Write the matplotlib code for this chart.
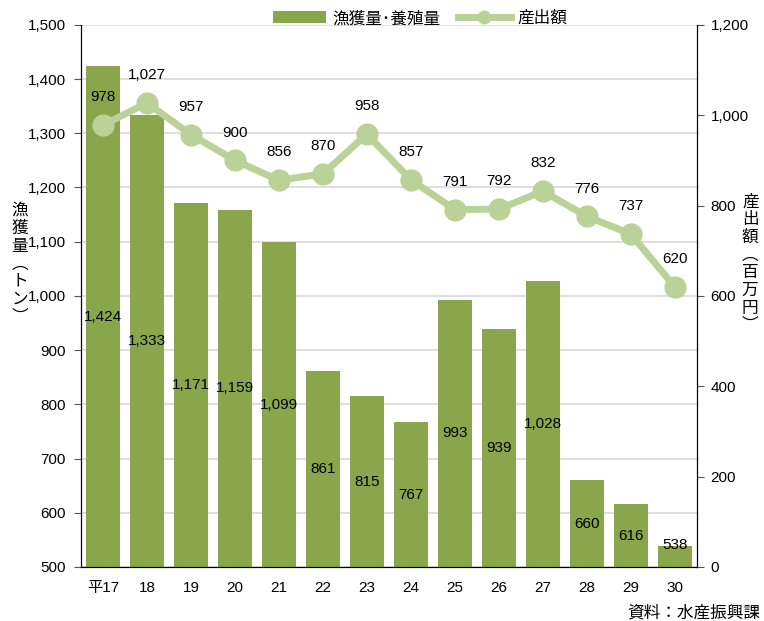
import matplotlib
matplotlib.use("Agg")
import matplotlib.pyplot as plt
from matplotlib import font_manager
from matplotlib.ticker import FuncFormatter
import numpy as np

# 年度ごとの漁獲量・養殖量（トン）と産出額（百万円）
years = ["平17", "18", "19", "20", "21", "22", "23", "24", "25", "26", "27", "28", "29", "30"]
catch_t = [1424, 1333, 1171, 1159, 1099, 861, 815, 767, 993, 939, 1028, 660, 616, 538]
output_m = [978, 1027, 957, 900, 856, 870, 958, 857, 791, 792, 832, 776, 737, 620]

names = {f.name for f in font_manager.fontManager.ttflist}
num_font = "Liberation Sans Narrow" if "Liberation Sans Narrow" in names else "Liberation Sans"
plt.rcParams["font.family"] = [num_font, "Noto Sans CJK JP", "DejaVu Sans"]
plt.rcParams["font.size"] = 11
JP = ["Noto Sans CJK JP", "DejaVu Sans"]

BAR = "#8aa64c"
LINE = "#bad298"

fig = plt.figure(figsize=(7.64, 6.21), dpi=100)
ax = fig.add_axes([0.106, 0.087, 0.806, 0.873])
ax2 = ax.twinx()

x = np.arange(len(years))
ax.bar(x, catch_t, width=0.78, color=BAR, zorder=2, label="漁獲量･養殖量")
ax.set_ylim(500, 1500)
ax.set_xlim(-0.5, len(years) - 0.5)
ax.set_yticks(np.arange(500, 1501, 100))
ax.yaxis.set_major_formatter(FuncFormatter(lambda v, p: f"{int(v):,}"))
ax.grid(axis="y", color="#d9d9d9", linewidth=1.2, zorder=0)
ax.set_axisbelow(True)
ax.set_xticks(x)
ax.set_xticklabels(years)
ax.tick_params(axis="x", length=0, pad=10)
ax.tick_params(axis="y", length=5, color="#555555", pad=6)

for xi, v in zip(x, catch_t):
    ax.text(xi, max((500 + v) / 2, 541), f"{v:,}", ha="center", va="center", fontsize=11, zorder=3)

ax2.plot(x, output_m, color=LINE, linewidth=5, marker="o", markersize=15, zorder=4, label="産出額")
ax2.set_ylim(0, 1200)
ax2.set_yticks(np.arange(0, 1201, 200))
ax2.yaxis.set_major_formatter(FuncFormatter(lambda v, p: f"{int(v):,}"))
ax2.tick_params(axis="y", length=5, color="#555555", pad=5)
for xi, v in zip(x, output_m):
    ax2.annotate(f"{v:,}", (xi, v), xytext=(0, 20), textcoords="offset points",
                 ha="center", va="center", fontsize=11, zorder=5)

for a in (ax, ax2):
    a.spines["top"].set_visible(False)
    a.spines["left"].set_color("black")
    a.spines["right"].set_color("black")
    a.spines["bottom"].set_color("black")

fig.text(0.026, 0.575, "\n".join("漁獲量︵トン︶"), ha="center", va="center",
         fontsize=12, linespacing=1.05, family=JP)
fig.text(0.982, 0.575, "\n".join("産出額︵百万円︶"), ha="center", va="center",
         fontsize=12, linespacing=1.05, family=JP)

h1, l1 = ax.get_legend_handles_labels()
h2, l2 = ax2.get_legend_handles_labels()
fig.legend(h1 + h2, l1 + l2, loc="center", bbox_to_anchor=(0.55, 0.97), ncol=2,
           frameon=False, handlelength=3.2, columnspacing=1.0, markerscale=0.6,
           handletextpad=0.4, prop={"family": JP, "size": 12})

fig.text(0.995, 0.0, "資料：水産振興課", ha="right", va="bottom", fontsize=12, family=JP)

fig.savefig("out.png", dpi=100)
